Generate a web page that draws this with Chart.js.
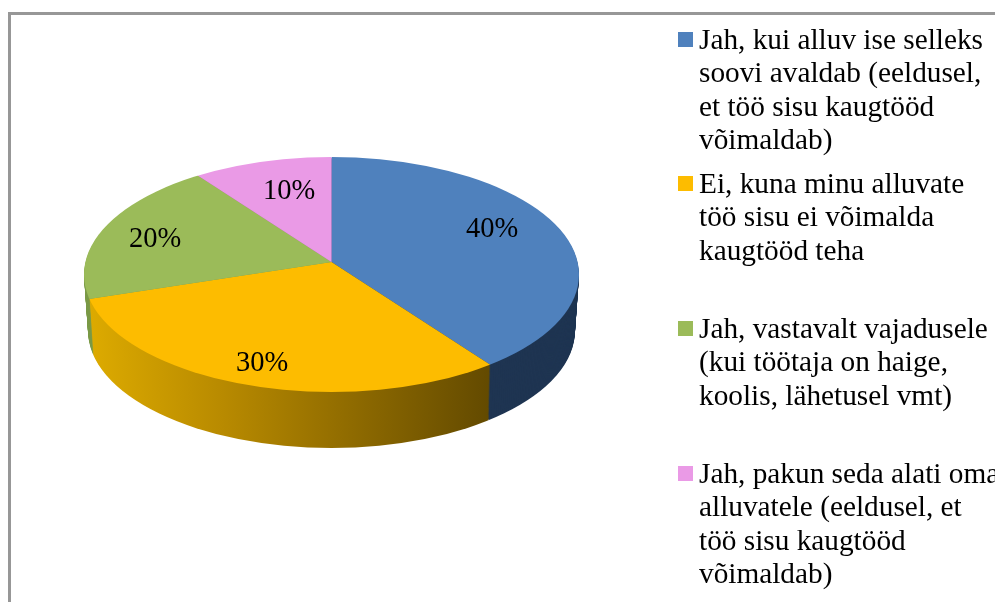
<!DOCTYPE html>
<html>
<head>
<meta charset="utf-8">
<style>
html,body{margin:0;padding:0;background:#fff;overflow:hidden}
#wrap{position:relative;width:995px;height:602px;overflow:hidden}
#frame{position:absolute;left:8px;top:12px;width:1100px;height:700px;border:3px solid #979797;box-sizing:border-box}
canvas{position:absolute;left:0;top:0}
</style>
</head>
<body>
<div id="wrap"><div id="frame"></div><canvas id="c" width="995" height="602"></canvas></div>
<script src="https://cdn.jsdelivr.net/npm/chart.js@4/dist/chart.umd.js"></script>
<script>
const categories = [
  "Jah, kui alluv ise selleks soovi avaldab (eeldusel, et töö sisu kaugtööd võimaldab)",
  "Ei, kuna minu alluvate töö sisu ei võimalda kaugtööd teha",
  "Jah, vastavalt vajadusele (kui töötaja on haige, koolis, lähetusel vmt)",
  "Jah, pakun seda alati oma alluvatele (eeldusel, et töö sisu kaugtööd võimaldab)"
];
const values = [40, 30, 20, 10];
const topColors = ["#4f81bd", "#fdbc00", "#9bbb59", "#ea9ae6"];
const sideColors = ["#1f3552", null, "#7b9a48", "#a868a4"];
const legendLines = [
  ["Jah, kui alluv ise selleks", "soovi avaldab (eeldusel,", "et töö sisu kaugtööd", "võimaldab)"],
  ["Ei, kuna minu alluvate", "töö sisu ei võimalda", "kaugtööd teha"],
  ["Jah, vastavalt vajadusele", "(kui töötaja on haige,", "koolis, lähetusel vmt)"],
  ["Jah, pakun seda alati oma", "alluvatele (eeldusel, et", "töö sisu kaugtööd", "võimaldab)"]
];
const legendBaselines = [49, 193, 338, 483];
const labelSpots = [[492, 230], [262, 364], [155, 240], [289, 192]];

const FONT = '"Liberation Serif","Times New Roman",serif';
const geo = {apexX: 331.5, apexY: 262, cx: 331.5, cy: 274.5, rx: 247.5, ry: 117.5, pieRx: 320, ratio: 0.47, depth: 56, shrink: 4};

function place(ctx, arc, t) {
  const dy = t * geo.depth;
  const k = (geo.rx - t * geo.shrink) / geo.rx;
  ctx.beginPath();
  ctx.ellipse(geo.cx, geo.cy + dy, geo.rx * k, geo.ry, 0, 0, Math.PI * 2);
  ctx.clip();
  const sx = geo.pieRx * k / arc.outerRadius;
  ctx.translate(geo.apexX, geo.apexY + dy);
  ctx.scale(sx, sx * geo.ratio);
  ctx.translate(-arc.x, -arc.y);
}

const pie3d = {
  id: 'pie3d',
  beforeDatasetDraw(chart, args) {
    const ctx = chart.ctx, arcs = args.meta.data, first = arcs[0];
    const sx = geo.pieRx / first.outerRadius;
    const toX = X => first.x + (X - geo.apexX) / sx;
    const grad = ctx.createLinearGradient(toX(90), 0, toX(491), 0);
    grad.addColorStop(0, "#dcaa00");
    grad.addColorStop(0.33, "#b88a00");
    grad.addColorStop(0.66, "#8e6a00");
    grad.addColorStop(1, "#634a00");
    const saved = arcs.map(a => a.options);
    arcs.forEach((a, i) => {
      a.options = Object.assign({}, saved[i], {backgroundColor: sideColors[i] || grad, borderWidth: 0});
    });
    for (let d = geo.depth; d >= 1; d--) {
      ctx.save();
      place(ctx, first, d / geo.depth);
      arcs.forEach(a => a.draw(ctx));
      ctx.restore();
    }
    arcs.forEach((a, i) => { a.options = saved[i]; });
    ctx.save();
    place(ctx, first, 0);
  },
  afterDatasetDraw(chart, args) {
    const ctx = chart.ctx;
    ctx.restore();
    ctx.save();
    ctx.fillStyle = "#000";
    ctx.font = "28.5px " + FONT;
    ctx.textAlign = "center";
    ctx.textBaseline = "middle";
    const total = values.reduce((s, v) => s + v, 0);
    values.forEach((v, i) => {
      ctx.fillText(Math.round(v / total * 100) + "%", labelSpots[i][0], labelSpots[i][1]);
    });
    ctx.restore();
  },
  afterDraw(chart) {
    const ctx = chart.ctx;
    ctx.save();
    ctx.font = "29.3px " + FONT;
    ctx.textAlign = "left";
    ctx.textBaseline = "alphabetic";
    legendLines.forEach((lines, i) => {
      const base = legendBaselines[i];
      ctx.fillStyle = topColors[i];
      ctx.fillRect(678, base - 17, 15, 15);
      ctx.fillStyle = "#000";
      lines.forEach((line, j) => ctx.fillText(line, 699, base + j * 33.4));
    });
    ctx.restore();
  }
};

new Chart(document.getElementById('c'), {
  type: 'pie',
  data: {labels: categories, datasets: [{data: values, backgroundColor: topColors, borderWidth: 0, clip: false}]},
  options: {
    responsive: false,
    animation: false,
    layout: {padding: 0},
    plugins: {legend: {display: false}, tooltip: {enabled: false}, title: {display: false}}
  },
  plugins: [pie3d]
});
</script>
</body>
</html>
